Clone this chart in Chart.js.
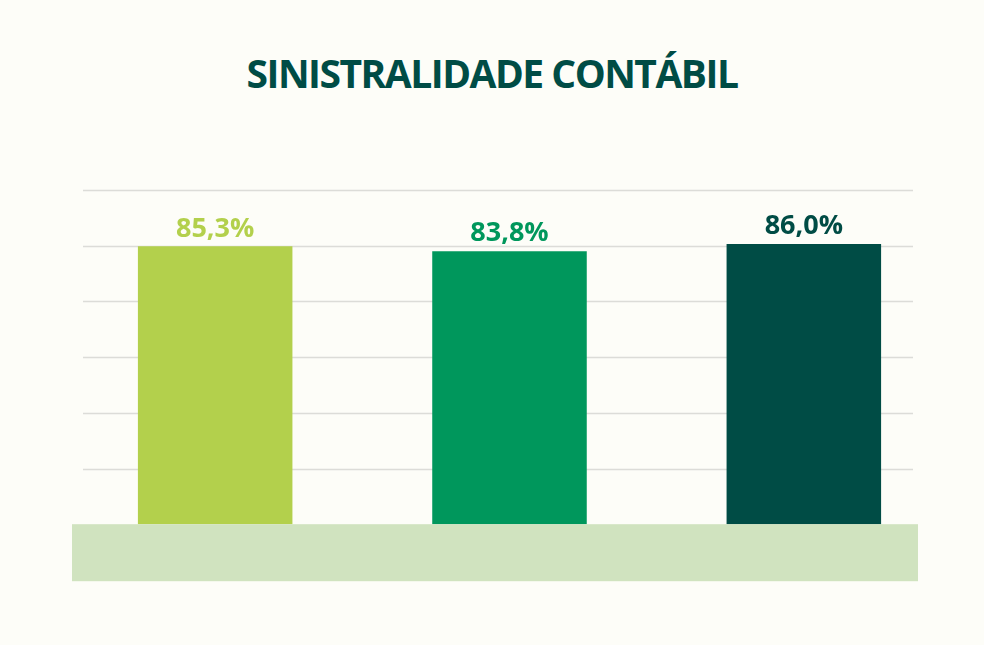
<!DOCTYPE html>
<html><head><meta charset="utf-8">
<script src="https://cdn.jsdelivr.net/npm/chart.js@4"></script>
<style>
html,body{margin:0;padding:0;background:#fdfdf8;}
#wrap{position:relative;width:984px;height:645px;}
h1{position:absolute;top:46px;left:0;width:984px;margin:0;text-align:center;font:bold 39px "Open Sans",sans-serif;color:#004c45;letter-spacing:-1.5px;}
#c{position:absolute;left:0;top:0;}
</style></head>
<body><div id="wrap"><h1>SINISTRALIDADE CONTÁBIL</h1><canvas id="c" width="984" height="645"></canvas></div>
<script>
var categories = ['2022', '2023', '2024'];
var values = [85.3, 83.8, 86.0];
var colors = ['#b3d04c', '#00975c', '#004c45'];

var band = {
    id: 'band',
    beforeDatasetsDraw: function (ch) {
        var ctx = ch.ctx, a = ch.chartArea, y = ch.scales.y;
        ctx.save();
        ctx.fillStyle = '#d0e3bf';
        ctx.fillRect(72, a.bottom, 846, 57);
        ctx.strokeStyle = '#dcdcd8';
        ctx.lineWidth = 1.5;
        y.ticks.forEach(function (t) {
            var py = Math.round(y.getPixelForValue(t.value)) + 0.5;
            if (py >= a.bottom - 2) { return; }
            ctx.beginPath();
            ctx.moveTo(83, py);
            ctx.lineTo(913, py);
            ctx.stroke();
        });
        ctx.restore();
    },
    afterDatasetsDraw: function (ch) {
        var ctx = ch.ctx, meta = ch.getDatasetMeta(0);
        ctx.save();
        ctx.font = 'bold 27px "Open Sans", sans-serif';
        ctx.textAlign = 'center';
        ctx.textBaseline = 'bottom';
        meta.data.forEach(function (bar, i) {
            ctx.fillStyle = colors[i];
            ctx.fillText(values[i].toFixed(1).replace('.', ',') + '%', bar.x, bar.y - 4);
        });
        ctx.restore();
    }
};

new Chart(document.getElementById('c'), {
    type: 'bar',
    data: {labels: categories, datasets: [{data: values, backgroundColor: colors, barPercentage: 0.525, categoryPercentage: 1}]},
    options: {
        responsive: false, animation: false,
        layout: {padding: {left: 60, right: 33, top: 190, bottom: 60}},
        plugins: {legend: {display: false}, tooltip: {enabled: false}},
        scales: {
            x: {grid: {display: false}, border: {display: false},
                ticks: {color: '#004c45', font: {family: 'Open Sans', size: 24, weight: 'bold'}, padding: 12}},
            y: {min: 0, max: 102.6, display: true, border: {display: false},
                grid: {display: false},
                ticks: {display: false, stepSize: 17.1}}
        }
    },
    plugins: [band]
});
</script></body></html>
